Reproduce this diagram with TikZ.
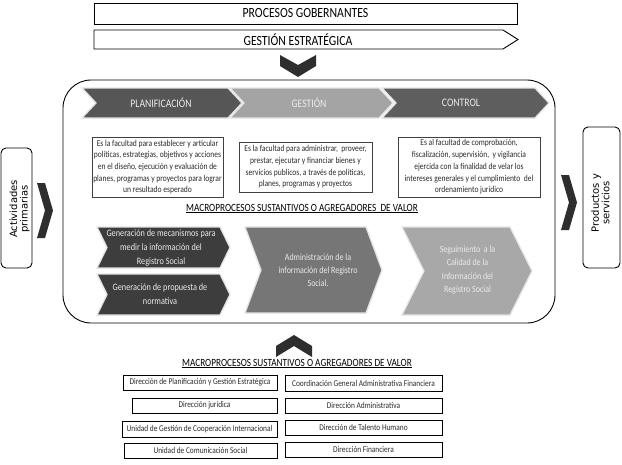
\documentclass[tikz,border=0pt]{standalone}
\usepackage{fontspec}
\setmainfont{Carlito}[FakeStretch=0.84]
\newfontfamily\sidefont{DejaVu Sans}
\usetikzlibrary{calc}
\definecolor{cplan}{HTML}{565656}
\definecolor{cgest}{HTML}{A4A4A4}
\definecolor{cctrl}{HTML}{5E5E5E}
\definecolor{cdark}{HTML}{3D3D3D}
\definecolor{cmid}{HTML}{767676}
\definecolor{clight}{HTML}{A8A8A8}
\definecolor{chevedge}{HTML}{E4E4E4}
\definecolor{cblk}{HTML}{2E2E2E}
\definecolor{ctxt}{HTML}{2A2A2A}
\newcommand{\mychev}[6]{%
  \filldraw[fill=#6, draw=chevedge, line width=1.3pt, line join=miter]
    (#1,#2) -- ({#3-#5},#2) -- (#3,{(#2+#4)/2}) -- ({#3-#5},#4) -- (#1,#4) -- ({#1+#5},{(#2+#4)/2}) -- cycle;}
\tikzset{
  tbox/.style={draw=black!75, line width=0.8pt, fill=white, inner sep=0pt, align=center,
    text=ctxt, font=\fontsize{9}{11.7}\selectfont},
  lbox/.style={draw=black, line width=0.9pt, fill=white, inner sep=0pt, text=ctxt,
    font=\fontsize{8.8}{10}\selectfont},
  chevtxt/.style={align=center, text=white!92!black},
  heading/.style={font=\fontsize{11}{13}\selectfont, text=black},
  sidebox/.style={draw=black, line width=0.9pt, rounded corners=5pt, fill=white, inner sep=0pt},
  sidetxt/.style={rotate=90, align=center, font=\sidefont\fontsize{10}{10.5}\selectfont}
}
\begin{document}
\begin{tikzpicture}[x=1pt, y=-1pt]
\useasboundingbox (0,0) rectangle (622,464);
\fill[white] (0,0) rectangle (622,464);

% top boxes
\node[draw=black, line width=0.9pt, minimum width=423pt, minimum height=21pt, inner sep=0pt,
  font=\fontsize{14}{16}\selectfont] (procg) at (305.5,13.5) {PROCESOS GOBERNANTES};
\draw[line width=0.9pt] (94,30) -- (503,30) -- (518,39.5) -- (503,49) -- (94,49) -- cycle;
\node[font=\fontsize{14}{16}\selectfont] (gest) at (298,39.5) {GESTIÓN ESTRATÉGICA};

% down chevron
\fill[cblk] (280,55) -- (298,65) -- (316,55) -- (316,66) -- (298,77) -- (280,66) -- cycle;

% main rounded frame
\draw[line width=0.9pt, rounded corners=28pt] (63,80) rectangle (555,323);

% top chevrons
\mychev{382}{88}{549}{118}{14}{cctrl}
\mychev{230}{88}{393}{118}{14}{cgest}
\mychev{82}{88}{242}{118}{14}{cplan}
\node[chevtxt, font=\fontsize{11.5}{13}\selectfont] (plan) at (161,103) {PLANIFICACIÓN};
\node[chevtxt, font=\fontsize{11.5}{13}\selectfont] (gesti) at (309,103) {GESTIÓN};
\node[chevtxt, font=\fontsize{11.5}{13}\selectfont] (ctrl) at (461,103) {CONTROL};

% description boxes
\node[tbox, minimum width=131pt, minimum height=60pt] (b1) at (157.5,167)
  {Es la facultad para establecer y articular\\políticas, estrategias, objetivos y acciones\\en el diseño, ejecución y evaluación de\\planes, programas y proyectos para lograr\\un resultado esperado};
\node[tbox, minimum width=133pt, minimum height=50pt] (b2) at (305.5,167)
  {Es la facultad para administrar,\ \ proveer,\\prestar, ejecutar y financiar bienes y\\servicios publicos, a través de políticas,\\planes, programas y proyectos};
\node[tbox, minimum width=142pt, minimum height=60pt] (b3) at (469,167)
  {Es al facultad de comprobación,\\fiscalización, supervisión,\ \ y vigilancia\\ejercida con la finalidad de velar los\\intereses generales y el cumplimiento\ \ del\\ordenamiento jurídico};

\node[heading] (h1) at (302,208.5) {\underline{MACROPROCESOS SUSTANTIVOS O AGREGADORES\ \ DE VALOR}};

% lower chevrons
\mychev{97}{227}{230}{268}{10}{cdark}
\mychev{97}{274}{230}{315}{10}{cdark}
\mychev{245}{227}{382}{313}{16}{cmid}
\mychev{402}{227}{532}{315}{22}{clight}
\node[chevtxt, font=\fontsize{9.8}{14}\selectfont] (m1) at (161,247.5)
  {Generación de mecanismos para\\medir la información del\\Registro Social};
\node[chevtxt, font=\fontsize{9.8}{14}\selectfont] (m2) at (160,294)
  {Generación de propuesta de\\normativa};
\node[chevtxt, font=\fontsize{9.5}{13}\selectfont] (m3) at (318,270)
  {Administración de la\\información del Registro\\Social.};
\node[chevtxt, font=\fontsize{9.5}{13.3}\selectfont] (m4) at (467.5,270)
  {Seguimiento\ \ a la\\Calidad de la\\Información del\\Registro Social};

% side elements
\node[sidebox, minimum width=31pt, minimum height=120pt] (actbox) at (16.5,208) {};
\node[sidetxt] (act) at (19.5,209) {Actividades\\primarias};
\fill[cblk] (37,183) -- (45,183) -- (53,210.5) -- (45,238) -- (37,238) -- (45,210.5) -- cycle;
\fill[cblk] (561,175) -- (569,175) -- (577,202.5) -- (569,230) -- (561,230) -- (569,202.5) -- cycle;
\node[sidebox, minimum width=37pt, minimum height=141pt] (prodbox) at (601.5,197.5) {};
\node[sidetxt] (prod) at (600.5,203) {Productos y\\servicios};

% up chevron
\fill[cblk] (276,346) -- (294,335) -- (312,346) -- (312,357) -- (294,346) -- (276,357) -- cycle;
\node[heading] (h2) at (297,363.5) {\underline{MACROPROCESOS SUSTANTIVOS O AGREGADORES DE VALOR}};

% list boxes
\node[lbox, minimum width=154pt, minimum height=15pt] (l1) at (200,382.5) {Dirección de Planificación y Gestión Estratégica};
\node[lbox, minimum width=145pt, minimum height=15pt] (l2) at (204.5,405.5) {Dirección jurídica};
\node[lbox, minimum width=155pt, minimum height=16pt] (l3) at (199.5,429) {Unidad de Gestión de Cooperación Internacional};
\node[lbox, minimum width=153pt, minimum height=15pt] (l4) at (200.5,450.5) {Unidad de Comunicación Social};
\node[lbox, minimum width=157pt, minimum height=16pt] (r1) at (363.5,383) {Coordinación General Administrativa Financiera};
\node[lbox, minimum width=157pt, minimum height=15pt] (r2) at (363.5,405.5) {Dirección Administrativa};
\node[lbox, minimum width=157pt, minimum height=15pt] (r3) at (363.5,427.5) {Dirección de Talento Humano};
\node[lbox, minimum width=157pt, minimum height=15pt] (r4) at (363.5,449.5) {Dirección Financiera};
\end{tikzpicture}
\end{document}
